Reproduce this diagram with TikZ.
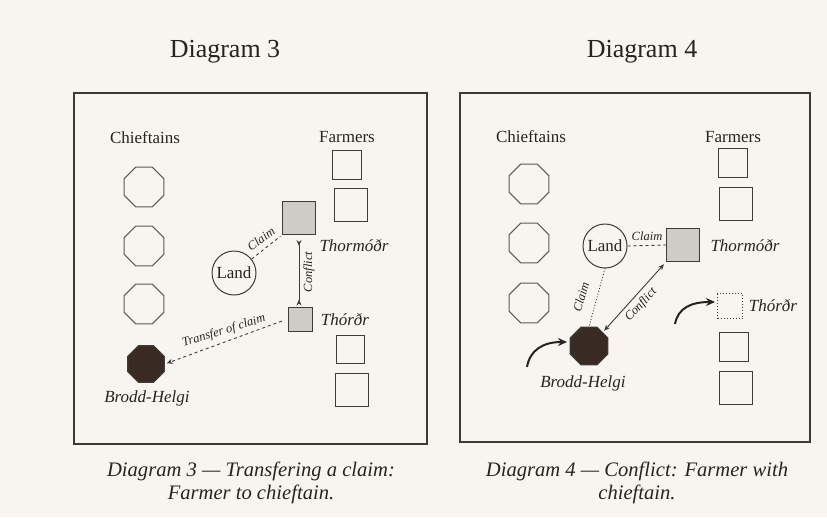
\documentclass[tikz,border=0pt]{standalone}
\usepackage{fontspec}
\setmainfont{Liberation Serif}
\usetikzlibrary{shapes.geometric,arrows.meta}
\definecolor{bg}{HTML}{F8F5F0}
\definecolor{ink}{HTML}{262422}
\definecolor{edge}{HTML}{3E3B39}
\definecolor{lgrey}{HTML}{CFCBC7}
\definecolor{dbrown}{HTML}{3A2A24}
\tikzset{
  arrhead/.tip={Stealth[length=6pt, width=5pt]},
  rarrhead/.tip={Stealth[length=6pt, width=5pt, reversed]}
}
\begin{document}
\begin{tikzpicture}[x=1pt,y=-1pt,
  every node/.style={text=ink},
  octa/.style={regular polygon, regular polygon sides=8, draw=edge!85, line width=1.1pt, minimum size=43pt, inner sep=0pt},
  chiefnode/.style={octa, draw=edge, fill=dbrown, minimum size=41pt},
  sqnode/.style={rectangle, draw=edge, line width=1pt, inner sep=0pt, minimum size=#1},
  gsqnode/.style={sqnode=#1, fill=lgrey},
  landnode/.style={circle, draw=edge, line width=1pt, inner sep=0pt, minimum size=44pt, font=\fontsize{17}{20}\selectfont},
  hdrtext/.style={font=\fontsize{17}{20}\selectfont},
  nametext/.style={font=\fontsize{17}{20}\selectfont\itshape},
  smalltext/.style={font=\fontsize{12.5}{14}\selectfont\itshape, inner sep=0pt},
  titletext/.style={font=\fontsize{26}{30}\selectfont, anchor=base},
  capttext/.style={font=\fontsize{20.6}{23}\selectfont\itshape, align=center, anchor=north, inner sep=0pt},
  framebox/.style={draw=ink!90, line width=1.4pt},
  conn/.style={draw=edge, line width=0.9pt},
  bigarr/.style={draw=ink, line width=2pt, -{Stealth[length=9pt, width=8pt]}}
]
\useasboundingbox (0,0) rectangle (827,517);
\fill[bg] (0,0) rectangle (827,517);

% ---------- Diagram 3 ----------
\node[titletext] (t3) at (225,57) {Diagram 3};
\draw[framebox] (74,93) rectangle (427,444);
\node[hdrtext] (ch3) at (145,138) {Chieftains};
\node[hdrtext] (fa3) at (347,137) {Farmers};
\node[octa] (c31) at (144,187) {};
\node[octa] (c32) at (144,246) {};
\node[octa] (c33) at (144,304) {};
\node[chiefnode, minimum size=39.5pt] (bh3) at (146,364) {};
\node[nametext] (bh3l) at (147,398) {Brodd-Helgi};
\node[sqnode=29pt] (f31) at (347,165) {};
\node[sqnode=33pt] (f32) at (351,205) {};
\node[sqnode=28pt] (f33) at (350,349) {};
\node[sqnode=33pt] (f34) at (352,390) {};
\node[gsqnode=33pt] (tm3) at (299,218) {};
\node[nametext] (tm3l) at (354,246) {Thormóðr};
\node[gsqnode=24pt] (td3) at (300,319) {};
\node[nametext] (td3l) at (345,320) {Thórðr};
\node[landnode] (land3) at (234,273) {Land};

\draw[conn, dashed, shorten >=2pt] (land3) -- (tm3.south west);
\node[smalltext, rotate=36] (cl3) at (261,239) {Claim};
\draw[conn, {rarrhead}-{rarrhead}, shorten <=5pt, shorten >=1pt] (tm3.south) -- (tm3.south |- td3.north);
\node[smalltext, rotate=90] (co3) at (309,272) {Conflict};
\draw[conn, dashed, -{arrhead}, shorten <=6pt, shorten >=2pt] (td3.west) -- (bh3.east);
\node[smalltext, rotate=17] (tr3) at (224,331) {Transfer of claim};

\node[capttext] (cap3) at (251,462) {Diagram 3 — Transfering a claim:\\Farmer to chieftain.};

% ---------- Diagram 4 ----------
\node[titletext] (t4) at (642,57) {Diagram 4};
\draw[framebox] (460,93) rectangle (810,442);
\node[hdrtext] (ch4) at (531,137) {Chieftains};
\node[hdrtext] (fa4) at (733,137) {Farmers};
\node[octa] (c41) at (529,184) {};
\node[octa] (c42) at (529,243) {};
\node[octa] (c43) at (529,303) {};
\node[chiefnode] (bh4) at (589,346) {};
\node[nametext] (bh4l) at (583,383) {Brodd-Helgi};
\node[sqnode=29pt] (f41) at (733,163) {};
\node[sqnode=33pt] (f42) at (736,204) {};
\node[sqnode=29pt] (f43) at (734,347) {};
\node[sqnode=33pt] (f44) at (736,388) {};
\node[gsqnode=33pt] (tm4) at (683,245) {};
\node[nametext] (tm4l) at (745,246) {Thormóðr};
\node[sqnode=25pt, dotted] (td4) at (730,306) {};
\node[nametext] (td4l) at (773,306) {Thórðr};
\node[landnode] (land4) at (605,246) {Land};

\draw[conn, dashed] (land4.east) -- (tm4.west);
\node[smalltext] (cl4a) at (647,236) {Claim};
\draw[conn, dotted, line width=1pt] (land4.south) -- (bh4.north);
\node[smalltext, rotate=74] (cl4b) at (581,297) {Claim};
\draw[conn, {arrhead}-{arrhead}, shorten <=3pt, shorten >=2pt] (tm4.south west) -- (bh4.north east);
\node[smalltext, rotate=47] (co4) at (641,305) {Conflict};

\coordinate (a1s) at (527,367);
\coordinate (a1e) at (567,342);
\coordinate (a2s) at (675,324);
\coordinate (a2e) at (715,302);
\draw[bigarr] (a1s) .. controls (530,350) and (543,342) .. (a1e);
\draw[bigarr] (a2s) .. controls (678,308) and (691,302) .. (a2e);

\node[capttext] (cap4) at (637,462) {Diagram 4 — Conflict: Farmer with\\chieftain.};
\end{tikzpicture}
\end{document}
